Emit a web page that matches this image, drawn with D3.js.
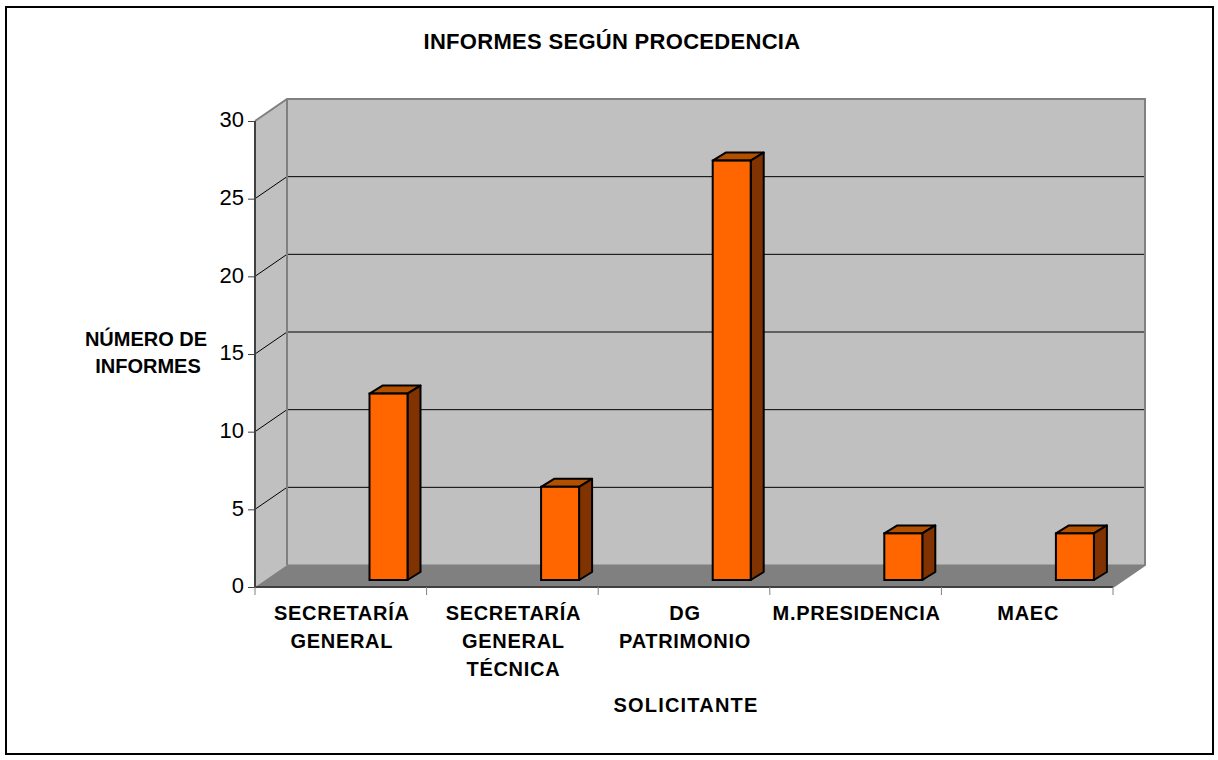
<!DOCTYPE html>
<html>
<head>
<meta charset="utf-8">
<script src="https://cdn.jsdelivr.net/npm/d3@7"></script>
<style>
html, body { margin: 0; padding: 0; background: #fff; }
svg { display: block; }
text { font-family: "Liberation Sans", Arial, sans-serif; fill: #000; }
</style>
</head>
<body>
<div id="myPlot"></div>
<script>
// chart data
var categories = ["SECRETARÍA GENERAL", "SECRETARÍA GENERAL TÉCNICA", "DG PATRIMONIO", "M.PRESIDENCIA", "MAEC"];
var categoryLines = [["SECRETARÍA", "GENERAL"], ["SECRETARÍA", "GENERAL", "TÉCNICA"], ["DG", "PATRIMONIO"], ["M.PRESIDENCIA"], ["MAEC"]];
var values = [12, 6, 27, 3, 3];
var yTicks = [0, 5, 10, 15, 20, 25, 30];

var svgWidth = 1218;
var svgHeight = 760;

// front edge of the plot box
var plotLeft = 255, plotRight = 1113, plotBottom = 587, plotTop = 121;
// how far the back wall sits from the front edge
var depthX = 32, depthY = -22;
// bar box
var barOffset = 114.5, barWidth = 38, barFrontY = -7, barDepthX = 13, barDepthY = -8;

var svg = d3.select("#myPlot").append("svg")
    .attr("width", svgWidth)
    .attr("height", svgHeight);

var xScale = d3.scaleBand().domain(categories).range([plotLeft, plotRight]);
var yScale = d3.scaleLinear().domain([0, 30]).range([plotBottom, plotTop]);

// outer frame
svg.append("rect")
    .attr("x", 6).attr("y", 7)
    .attr("width", 1207).attr("height", 747)
    .attr("fill", "#fff").attr("stroke", "#000").attr("stroke-width", 2);

function pts(list) {
    return list.map(p => p.join(",")).join(" ");
}

// back wall
svg.append("rect")
    .attr("x", plotLeft + depthX).attr("y", plotTop + depthY)
    .attr("width", plotRight - plotLeft).attr("height", plotBottom - plotTop)
    .attr("fill", "#c0c0c0");

// side wall
svg.append("polygon")
    .attr("points", pts([[plotLeft, plotTop], [plotLeft + depthX, plotTop + depthY], [plotLeft + depthX, plotBottom + depthY], [plotLeft, plotBottom]]))
    .attr("fill", "#c0c0c0");

// floor
svg.append("polygon")
    .attr("points", pts([[plotLeft, plotBottom], [plotLeft + depthX, plotBottom + depthY], [plotRight + depthX, plotBottom + depthY], [plotRight, plotBottom]]))
    .attr("fill", "#808080");

// grid lines, running along the side wall and the back wall
yTicks.slice(1, -1).forEach(function (t) {
    var y = yScale(t);
    svg.append("polyline")
        .attr("points", pts([[plotLeft, y], [plotLeft + depthX, y + depthY], [plotRight + depthX, y + depthY]]))
        .attr("fill", "none").attr("stroke", "#000").attr("stroke-width", 1);
});

// wall outlines in grey
svg.append("polyline")
    .attr("points", pts([[plotLeft, plotTop], [plotLeft + depthX, plotTop + depthY], [plotRight + depthX, plotTop + depthY], [plotRight + depthX, plotBottom + depthY], [plotRight, plotBottom]]))
    .attr("fill", "none").attr("stroke", "#808080").attr("stroke-width", 2);
svg.append("line")
    .attr("x1", plotLeft + depthX).attr("y1", plotTop + depthY)
    .attr("x2", plotLeft + depthX).attr("y2", plotBottom + depthY)
    .attr("stroke", "#808080").attr("stroke-width", 2);
svg.append("line")
    .attr("x1", plotLeft + depthX).attr("y1", plotBottom + depthY)
    .attr("x2", plotRight + depthX).attr("y2", plotBottom + depthY)
    .attr("stroke", "#808080").attr("stroke-width", 1);

// y axis
var yAxis = d3.axisLeft(yScale).tickValues(yTicks).tickSize(7).tickPadding(4);
var yG = svg.append("g").attr("transform", `translate(${plotLeft}, 0)`).call(yAxis);
yG.select(".domain").attr("stroke", "#404040").attr("stroke-width", 2).attr("d", `M0,${plotTop}V${plotBottom}`);
yG.selectAll(".tick line").attr("stroke", "#404040");
yG.selectAll(".tick text").style("font-size", "22px").attr("fill", "#000").attr("dy", "0.27em");

// x axis
var xG = svg.append("g").attr("transform", `translate(0, ${plotBottom})`);
xG.append("line")
    .attr("x1", plotLeft).attr("x2", plotRight)
    .attr("stroke", "#404040").attr("stroke-width", 2);
categories.forEach(function (c) {
    xG.append("line")
        .attr("x1", xScale(c)).attr("x2", xScale(c))
        .attr("y1", 0).attr("y2", 8)
        .attr("stroke", "#808080");
});
xG.append("line")
    .attr("x1", plotRight).attr("x2", plotRight)
    .attr("y1", 0).attr("y2", 8)
    .attr("stroke", "#808080");

// bars
var bars = svg.selectAll("g.bar").data(values).enter().append("g").attr("class", "bar");

function barX(i) { return xScale(categories[i]) + barOffset; }
function barTop(d) { return yScale(d) + barFrontY; }
var barBase = yScale(0) + barFrontY;

bars.append("polygon")
    .attr("points", (d, i) => pts([
        [barX(i), barTop(d)],
        [barX(i) + barDepthX, barTop(d) + barDepthY],
        [barX(i) + barWidth + barDepthX, barTop(d) + barDepthY],
        [barX(i) + barWidth, barTop(d)]]))
    .attr("fill", "#b35000").attr("stroke", "#000").attr("stroke-width", 2).attr("stroke-linejoin", "round");

bars.append("polygon")
    .attr("points", (d, i) => pts([
        [barX(i) + barWidth, barTop(d)],
        [barX(i) + barWidth + barDepthX, barTop(d) + barDepthY],
        [barX(i) + barWidth + barDepthX, barBase + barDepthY],
        [barX(i) + barWidth, barBase]]))
    .attr("fill", "#803300").attr("stroke", "#000").attr("stroke-width", 2).attr("stroke-linejoin", "round");

bars.append("rect")
    .attr("x", (d, i) => barX(i))
    .attr("y", d => barTop(d))
    .attr("width", barWidth)
    .attr("height", d => barBase - barTop(d))
    .attr("fill", "#ff6600").attr("stroke", "#000").attr("stroke-width", 2);

// category labels
categories.forEach(function (c, i) {
    var t = svg.append("text")
        .attr("text-anchor", "middle")
        .attr("font-weight", "bold")
        .style("font-size", "20px")
        .style("letter-spacing", "0.7px");
    categoryLines[i].forEach(function (line, j) {
        t.append("tspan")
            .attr("x", xScale(c) + xScale.bandwidth() / 2 + 1)
            .attr("y", 620 + j * 28)
            .text(line);
    });
});

// titles
svg.append("text")
    .attr("x", 612).attr("y", 49)
    .attr("text-anchor", "middle").attr("font-weight", "bold")
    .style("font-size", "22px")
    .style("letter-spacing", "0.3px")
    .text("INFORMES SEGÚN PROCEDENCIA");

svg.append("text")
    .attr("x", 686).attr("y", 712)
    .attr("text-anchor", "middle").attr("font-weight", "bold")
    .style("font-size", "20px")
    .style("letter-spacing", "1.2px")
    .text("SOLICITANTE");

var yTitle = svg.append("text")
    .attr("text-anchor", "middle").attr("font-weight", "bold")
    .style("font-size", "20px");
yTitle.append("tspan").attr("x", 146).attr("y", 346).text("NÚMERO DE");
yTitle.append("tspan").attr("x", 148).attr("y", 373).text("INFORMES");
</script>
</body>
</html>
